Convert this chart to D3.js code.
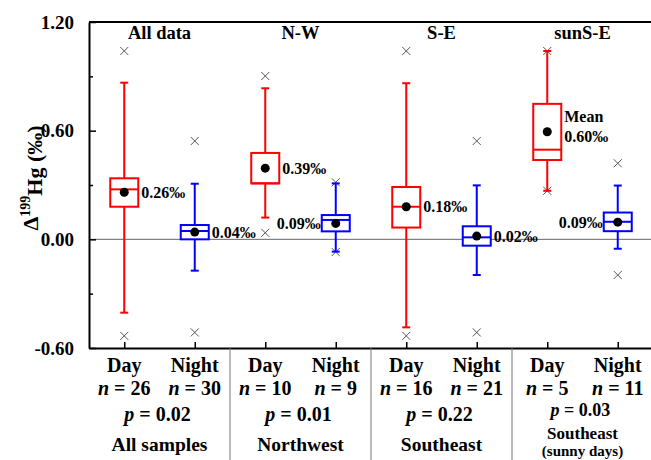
<!DOCTYPE html>
<html>
<head>
<meta charset="utf-8">
<script src="https://cdn.jsdelivr.net/npm/d3@7"></script>
<style>
  body { margin: 0; background: #fff; }
  svg text { font-family: "Liberation Serif", "Times New Roman", serif; font-weight: bold; fill: #000; }
</style>
</head>
<body>
<div id="chart"></div>
<script>
const margin = { top: 22, left: 89, right: -2, bottom: 112 },
      W = 651, H = 460,
      width = W - margin.left - margin.right,
      height = H - margin.top - margin.bottom;

// data
const categories = ["Day", "Night", "Day", "Night", "Day", "Night", "Day", "Night"];
const nCounts    = [26, 30, 10, 9, 16, 21, 5, 11];
const groupTitles = ["All data", "N-W", "S-E", "sunS-E"];
const groupNames  = ["All samples", "Northwest", "Southeast", "Southeast"];
const pValues     = ["0.02", "0.01", "0.22", "0.03"];
const whiskerLow  = [-0.405, -0.173, 0.120, -0.068, -0.486, -0.197, 0.268, -0.052];
const q1          = [0.180, 0.000, 0.309, 0.044, 0.065, -0.035, 0.438, 0.045];
const median      = [0.276, 0.046, 0.309, 0.107, 0.180, 0.011, 0.495, 0.097];
const q3          = [0.337, 0.079, 0.477, 0.134, 0.289, 0.072, 0.748, 0.148];
const whiskerHigh = [0.865, 0.307, 0.834, 0.309, 0.862, 0.298, 1.040, 0.297];
const means       = [0.26, 0.04, 0.393, 0.088, 0.18, 0.018, 0.594, 0.095];
const outliers    = [[1.04, -0.533], [0.543, -0.514], [0.902, 0.036], [0.315, -0.07],
                     [1.04, -0.533], [0.543, -0.514], [1.04, 0.268], [0.42, -0.197]];
const meanLabels  = ["0.26‰", "0.04‰", "0.39‰", "0.09‰", "0.18‰", "0.02‰", "0.60‰", "0.09‰"];
const labelSide   = ["r", "r", "r", "l", "r", "r", "r", "l"];
const yTicks = [-0.6, 0, 0.6, 1.2];
const yMinor = [-0.3, 0.3, 0.9];

const svg = d3.select("#chart").append("svg")
    .attr("width", W).attr("height", H);
const plot = svg.append("g")
    .attr("transform", "translate(" + margin.left + "," + margin.top + ")");

const x = d3.scaleLinear().domain([0.5, 8.5]).range([0, width]);
const y = d3.scaleLinear().domain([-0.6, 1.2]).range([height, 0]);
const idx = d3.range(categories.length);
const colorOf = i => i % 2 === 0 ? "#ff0000" : "#0000ff";
const boxW = 28, capW = 8;

// zero line
plot.append("line")
    .attr("x1", 0).attr("x2", width)
    .attr("y1", y(0)).attr("y2", y(0))
    .attr("stroke", "#666").attr("stroke-width", 1);

// axes
const yAxis = plot.append("g")
    .call(d3.axisLeft(y).tickValues(yTicks).tickFormat(d => d.toFixed(2))
      .tickSizeInner(-7).tickSizeOuter(0).tickPadding(15));
yAxis.select(".domain").attr("stroke-width", 2);
yAxis.selectAll(".tick line").attr("stroke-width", 1.5);
yAxis.selectAll("text").style("font-size", "19px");

plot.append("g")
    .call(d3.axisLeft(y).tickValues(yMinor).tickFormat("").tickSizeInner(-4).tickSizeOuter(0))
    .call(g => g.select(".domain").remove())
    .selectAll(".tick line").attr("stroke-width", 1.5);

const xAxis = plot.append("g")
    .attr("transform", "translate(0," + height + ")")
    .call(d3.axisBottom(x).tickValues(idx.map(i => i + 1)).tickFormat("")
      .tickSizeInner(-6).tickSizeOuter(0));
xAxis.select(".domain").attr("stroke-width", 2);
xAxis.selectAll(".tick line").attr("stroke-width", 1.5);

// top frame
plot.append("line")
    .attr("x1", 0).attr("x2", width).attr("y1", 0).attr("y2", 0)
    .attr("stroke", "#000").attr("stroke-width", 2);

// group separators below the axis
[2.5, 4.5, 6.5].forEach(v => {
  plot.append("line")
      .attr("x1", x(v)).attr("x2", x(v))
      .attr("y1", height).attr("y2", H - margin.top)
      .attr("stroke", "#777").attr("stroke-width", 1);
});

// outliers
const cross = 4;
idx.forEach(i => {
  outliers[i].forEach(v => {
    plot.append("path")
        .attr("d", "M" + (x(i + 1) - cross) + "," + (y(v) - cross) + "L" + (x(i + 1) + cross) + "," + (y(v) + cross) +
                   "M" + (x(i + 1) - cross) + "," + (y(v) + cross) + "L" + (x(i + 1) + cross) + "," + (y(v) - cross))
        .attr("stroke", "#555").attr("stroke-width", 1).attr("fill", "none");
  });
});

// boxes
const boxes = plot.selectAll(".box")
    .data(idx).enter().append("g")
    .attr("class", "box")
    .attr("stroke", colorOf)
    .attr("stroke-width", 2);

boxes.append("line")
    .attr("x1", i => x(i + 1)).attr("x2", i => x(i + 1))
    .attr("y1", i => y(whiskerLow[i])).attr("y2", i => y(whiskerHigh[i]));
boxes.append("line")
    .attr("x1", i => x(i + 1) - capW / 2).attr("x2", i => x(i + 1) + capW / 2)
    .attr("y1", i => y(whiskerLow[i])).attr("y2", i => y(whiskerLow[i]));
boxes.append("line")
    .attr("x1", i => x(i + 1) - capW / 2).attr("x2", i => x(i + 1) + capW / 2)
    .attr("y1", i => y(whiskerHigh[i])).attr("y2", i => y(whiskerHigh[i]));
boxes.append("rect")
    .attr("x", i => x(i + 1) - boxW / 2).attr("width", boxW)
    .attr("y", i => y(q3[i])).attr("height", i => y(q1[i]) - y(q3[i]))
    .attr("fill", "#fff");
boxes.append("line")
    .attr("x1", i => x(i + 1) - boxW / 2).attr("x2", i => x(i + 1) + boxW / 2)
    .attr("y1", i => y(median[i])).attr("y2", i => y(median[i]));

// means
plot.selectAll(".mean")
    .data(idx).enter().append("circle")
    .attr("cx", i => x(i + 1)).attr("cy", i => y(means[i]))
    .attr("r", 4.5).attr("fill", "#000");

// mean labels
idx.forEach(i => {
  const right = labelSide[i] === "r";
  plot.append("text")
      .attr("x", right ? x(i + 1) + boxW / 2 + 3 : x(i + 1) - boxW / 2 - 1)
      .attr("y", i === 6 ? y(means[i]) + 5 : y(means[i]))
      .attr("dy", "0.35em")
      .attr("text-anchor", right ? "start" : "end")
      .style("font-size", "16px")
      .text(meanLabels[i]);
  if (i === 6) {
    plot.append("text")
        .attr("x", x(i + 1) + boxW / 2 + 3)
        .attr("y", y(means[i]) - 15)
        .attr("dy", "0.35em")
        .style("font-size", "16px")
        .text("Mean");
  }
});

// group titles
groupTitles.forEach((g, k) => {
  plot.append("text")
      .attr("x", x(2 * k + 1.5)).attr("y", 17)
      .attr("text-anchor", "middle")
      .style("font-size", "18.5px")
      .text(g);
});

// category labels below axis
const below = svg.append("g");
idx.forEach(i => {
  below.append("text")
      .attr("x", margin.left + x(i + 1)).attr("y", 372)
      .attr("text-anchor", "middle")
      .style("font-size", "20px")
      .text(categories[i]);
  const t = below.append("text")
      .attr("x", margin.left + x(i + 1)).attr("y", 395)
      .attr("text-anchor", "middle")
      .style("font-size", "20px");
  t.append("tspan").style("font-style", "italic").text("n");
  t.append("tspan").text(" = " + nCounts[i]);
});

groupNames.forEach((g, k) => {
  const cx = margin.left + x(2 * k + 1.5) - 2;
  const last = k === 3;
  const p = below.append("text")
      .attr("x", cx).attr("y", last ? 416 : 421)
      .attr("text-anchor", "middle")
      .style("font-size", last ? "18px" : "20px");
  p.append("tspan").style("font-style", "italic").text("p");
  p.append("tspan").text(" = " + pValues[k]);
  below.append("text")
      .attr("x", cx + 2).attr("y", last ? 439 : 451)
      .attr("text-anchor", "middle")
      .style("font-size", last ? "17px" : "19.5px")
      .text(g);
  if (last) {
    below.append("text")
        .attr("x", cx + 2).attr("y", 456)
        .attr("text-anchor", "middle")
        .style("font-size", "15px")
        .text("(sunny days)");
  }
});

// y title
const yt = svg.append("text")
    .attr("transform", "translate(38,178) rotate(-90)")
    .attr("text-anchor", "middle")
    .style("font-size", "22px");
yt.append("tspan").text("Δ");
yt.append("tspan").attr("dy", "-0.55em").style("font-size", "14px").text("199");
yt.append("tspan").attr("dy", "0.55em").text("Hg (‰)");
</script>
</body>
</html>
